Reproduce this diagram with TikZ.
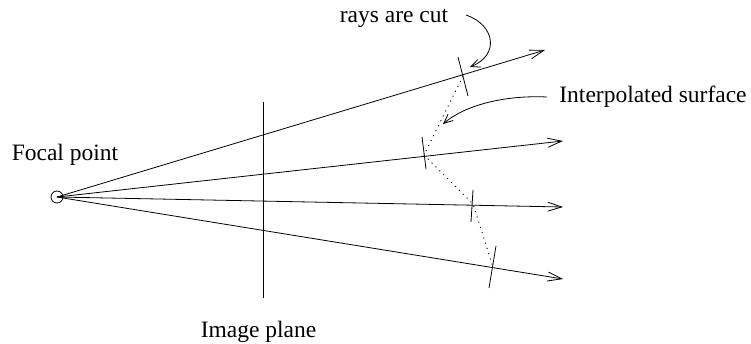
\documentclass[tikz,border=0pt]{standalone}
\usepackage{fontspec}
\setmainfont{Liberation Serif}
\usetikzlibrary{arrows.meta}
\begin{document}
\begin{tikzpicture}[x=1pt,y=-1pt,line width=0.8pt,
  ray/.style={-{Straight Barb[length=14pt,width=9pt]}},
  cutmark/.style={line width=0.8pt},
  surf/.style={line width=1pt,dash pattern=on 1pt off 4.5pt},
  callout/.style={-{Straight Barb[length=9pt,width=8pt]}},
  lbl/.style={font=\fontsize{23.5}{26}\selectfont, inner sep=0pt, anchor=base}]
\useasboundingbox (0,0) rectangle (751,343);
% focal point
\node[circle,draw,minimum size=12pt,inner sep=0pt] (fp) at (57,197) {};
\coordinate (f) at (57,197);
% ray ends
\coordinate (e1) at (545,50);
\coordinate (e2) at (563,141);
\coordinate (e3) at (563,207);
\coordinate (e4) at (563,279);
\draw[ray] (f) -- (e1);
\draw[ray] (f) -- (e2);
\draw[ray] (f) -- (e3);
\draw[ray] (f) -- (e4);
% image plane
\coordinate (ip1) at (263,102);
\coordinate (ip2) at (263,298);
\draw (ip1) -- (ip2);
% cut points
\coordinate (c1) at (463,76);
\coordinate (c2) at (424,155);
\coordinate (c3) at (473,204);
\coordinate (c4) at (493,267);
\coordinate (t1a) at (458,57); \coordinate (t1b) at (468,96);
\coordinate (t2a) at (422,137); \coordinate (t2b) at (426,169);
\coordinate (t3a) at (473,190); \coordinate (t3b) at (471,222);
\coordinate (t4a) at (496,246); \coordinate (t4b) at (489,288);
\draw[cutmark] (t1a) -- (t1b);
\draw[cutmark] (t2a) -- (t2b);
\draw[cutmark] (t3a) -- (t3b);
\draw[cutmark] (t4a) -- (t4b);
\draw[surf] (c1) -- (c2) -- (c3) -- (c4);
% labels
\node[lbl] (lfp) at (65,160) {Focal point};
\node[lbl] (lip) at (258.5,337) {Image plane};
\node[lbl] (lcut) at (394,22) {rays are cut};
\node[lbl,anchor=base west] (lsurf) at (559,102) {Interpolated surface};
% callouts
\coordinate (s1) at (466,15);
\coordinate (a1) at (470,67);
\draw[callout] (s1) .. controls (495,25) and (500,55) .. (a1);
\coordinate (s2) at (547,97);
\coordinate (a2) at (443,124);
\draw[callout] (s2) .. controls (505,95) and (465,105) .. (a2);
\end{tikzpicture}
\end{document}
